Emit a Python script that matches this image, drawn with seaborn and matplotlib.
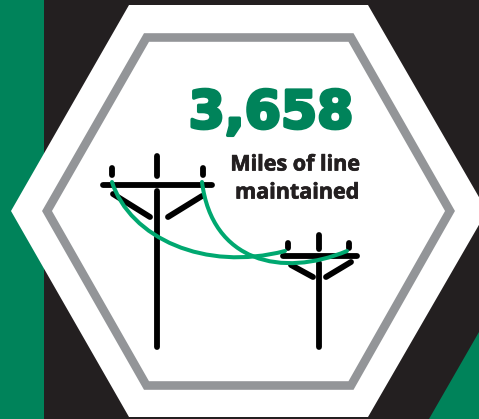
import matplotlib
matplotlib.use("Agg")
import matplotlib.pyplot as plt
import matplotlib.patheffects as pe
import pandas as pd
import seaborn as sns
from matplotlib.path import Path
from matplotlib.patches import PathPatch

sns.set_theme(style="white")

BLACK = "#231F20"
GREEN = "#00835A"
WIRE = "#00A870"
GREY = "#939598"

value_label = "3,658"
caption_lines = ["Miles of line", "maintained"]

white_x = [129, 368, 487, 368, 129, 11]
white_y = [5, 5, 211, 417, 417, 211]
grey_x = [146.5, 351, 450, 351, 146.5, 47]
grey_y = [37.5, 37.5, 211, 385.5, 385.5, 211]
band_x = [0, 44, 44, 0]
band_y = [0, 0, 419, 419]
corner_x = [429, 479, 479]
corner_y = [419, 332, 419]

seg_id = [0, 0, 1, 1, 2, 2, 3, 3, 4, 4, 5, 5, 6, 6,
          7, 7, 8, 8, 9, 9, 10, 10, 11, 11, 12, 12, 13, 13]
seg_x = [157, 157, 157, 157, 103, 212, 112, 112, 203, 203, 113, 150, 168, 202,
         319, 319, 319, 319, 283, 357, 288.5, 288.5, 349.5, 349.5, 291, 313, 326, 351]
seg_y = [191, 347, 156, 176, 185, 185, 168, 175, 168, 175, 194, 217, 217, 196,
         263, 347, 235, 249, 256, 256, 243, 248, 243, 248, 265, 277, 277, 262]
wire_a = [(112, 182), (130, 238), (205, 272), (285, 251)]
wire_b = [(202, 182), (212, 262), (282, 278), (347, 251)]

fig = plt.figure(figsize=(4.79, 4.19), dpi=100, facecolor=BLACK)
ax = fig.add_axes([0, 0, 1, 1])
ax.set_facecolor(BLACK)

ax.fill(band_x, band_y, color=GREEN, lw=0)
ax.fill(corner_x, corner_y, color=GREEN, lw=0)
ax.fill(white_x, white_y, color="white", lw=0)
ax.fill(grey_x, grey_y, facecolor="white", edgecolor=GREY, lw=6.2, joinstyle="miter")

segs = pd.DataFrame({"seg": seg_id, "x": seg_x, "y": seg_y})
sns.lineplot(data=segs, x="x", y="y", units="seg", estimator=None, sort=False,
             color="black", lw=4.2, solid_capstyle="round", ax=ax, legend=False)

codes = [Path.MOVETO, Path.CURVE4, Path.CURVE4, Path.CURVE4]
for wire in (wire_a, wire_b):
    ax.add_patch(PathPatch(Path(wire, codes), fc="none", ec=WIRE, lw=2.9, capstyle="round", zorder=5))

ax.text(271, 114, value_label, color=GREEN, fontsize=37.5, fontweight="bold",
        family="DejaVu Sans", ha="center", va="center",
        path_effects=[pe.withStroke(linewidth=2.4, foreground=GREEN)])
ax.text(295, 165, caption_lines[0], color=BLACK, fontsize=15.5, fontweight="bold",
        family="Open Sans", ha="center", va="center",
        path_effects=[pe.withStroke(linewidth=0.5, foreground=BLACK)])
ax.text(297, 193, caption_lines[1], color=BLACK, fontsize=15.5, fontweight="bold",
        family="Open Sans", ha="center", va="center",
        path_effects=[pe.withStroke(linewidth=0.5, foreground=BLACK)])

ax.set_xlim(0, 479)
ax.set_ylim(419, 0)
ax.axis("off")
fig.savefig("out.png", dpi=100, facecolor=BLACK)
